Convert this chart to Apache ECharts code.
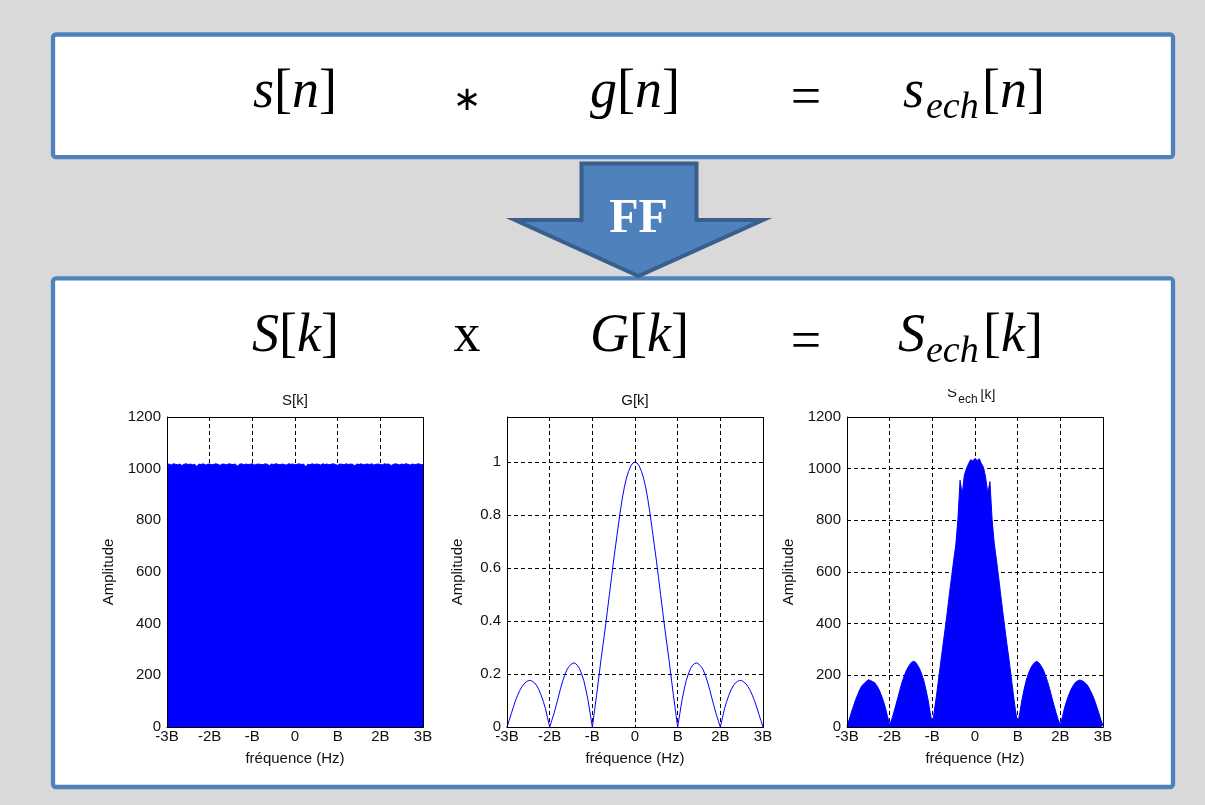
<!DOCTYPE html>
<html>
<head>
<meta charset="utf-8">
<script src="https://cdn.jsdelivr.net/npm/echarts@6/dist/echarts.min.js"></script>
<style>
html,body{margin:0;padding:0;background:#d9d9d9;}
#c{width:1205px;height:805px;}
</style>
</head>
<body>
<div id="c"></div>
<script>
// ---- data ----
const xTickLabels = ['-3B', '-2B', '-B', '0', 'B', '2B', '3B'];
const ampTicks = [0, 200, 400, 600, 800, 1000, 1200];
const gTicks = [0, 0.2, 0.4, 0.6, 0.8, 1];

// S[k] : flat noisy spectrum (121 samples from -3B to 3B)
const sValues = [
1016,1018,1014,1019,1017,1015,1018,1012,1017,1019,
1016,1018,1015,1017,1008,1018,1016,1019,1014,1017,
1018,1015,1017,1019,1016,1013,1018,1017,1015,1019,
1017,1016,1018,1010,1017,1019,1015,1018,1016,1017,
1019,1014,1017,1018,1016,1015,1019,1017,1012,1018,
1016,1019,1017,1015,1018,1016,1014,1019,1017,1018,
1015,1017,1019,1016,1018,1007,1017,1015,1019,1016,
1018,1017,1014,1019,1016,1018,1015,1017,1019,1016,
1013,1018,1017,1015,1019,1016,1018,1017,1011,1018,
1016,1019,1015,1017,1018,1016,1019,1014,1017,1018,
1016,1015,1019,1017,1018,1012,1016,1019,1017,1015,
1018,1016,1019,1017,1014,1018,1016,1017,1019,1016,1015];

// G[k] : |sinc|-like window (121 samples from -3B to 3B)
const gValues = [
0.000,0.025,0.050,0.076,0.100,0.120,0.138,0.152,0.163,0.170,
0.175,0.176,0.172,0.166,0.155,0.140,0.120,0.097,0.070,0.035,
0.000,0.025,0.050,0.080,0.110,0.142,0.170,0.195,0.215,0.228,
0.236,0.242,0.240,0.233,0.220,0.200,0.175,0.140,0.100,0.050,
0.000,0.060,0.120,0.185,0.250,0.310,0.370,0.435,0.500,0.565,
0.630,0.690,0.750,0.808,0.860,0.905,0.940,0.965,0.985,0.996,
1.000,0.996,0.985,0.965,0.940,0.905,0.860,0.808,0.750,0.690,
0.630,0.565,0.500,0.435,0.370,0.310,0.250,0.185,0.120,0.060,
0.000,0.050,0.100,0.140,0.175,0.200,0.220,0.233,0.240,0.242,
0.236,0.228,0.215,0.195,0.170,0.142,0.110,0.080,0.050,0.025,
0.000,0.035,0.070,0.097,0.120,0.140,0.155,0.166,0.172,0.176,
0.175,0.170,0.163,0.152,0.138,0.120,0.100,0.076,0.050,0.025,
0.000];

// S_ech[k] : product spectrum (121 samples from -3B to 3B)
const sEchValues = [
5,28,55,80,105,125,145,160,168,176,
183,180,176,171,160,145,125,102,75,40,
8,30,58,88,118,150,178,202,222,236,
248,254,252,240,226,205,180,145,105,55,
10,65,125,190,255,318,380,445,515,580,
645,705,805,955,900,975,1000,1020,1035,1030,
1040,1032,1038,1020,1005,965,905,950,805,712,
650,585,515,448,382,318,258,192,125,62,
10,55,105,145,180,205,226,240,250,254,
248,236,222,200,176,148,115,85,55,28,
8,40,75,102,125,145,160,172,178,182,
180,175,168,158,142,125,105,80,55,28,
5];

// frequency sampling grid (in units of B)
const freqs = [];
for (let i = 0; i < sValues.length; i++) freqs.push(Math.round((-3 + i * 0.05) * 100) / 100);

// ---- chart ----
const chart = echarts.init(document.getElementById('c'), null, {renderer: 'canvas'});
const grids = [
  {left: 167, top: 417, width: 256, height: 310},
  {left: 507, top: 417, width: 256, height: 310},
  {left: 847, top: 417, width: 256, height: 310}
];
const tickFont = {color: '#111', fontSize: 15, fontFamily: 'Liberation Sans'};
const dash = {color: '#000', type: [4, 3], width: 1};

function xAx(i) {
  return {
    gridIndex: i, type: 'value', min: -3, max: 3, interval: 1,
    axisLine: {show: true, onZero: false, lineStyle: {color: '#000', width: 1}},
    axisTick: {show: false},
    axisLabel: Object.assign({margin: 2, formatter: v => xTickLabels[Math.round(v + 3)]}, tickFont),
    splitLine: {show: true, lineStyle: dash},
    name: 'fréquence (Hz)', nameLocation: 'middle', nameGap: 24,
    nameTextStyle: tickFont
  };
}
function yAx(i, max, interval, ticks, gap) {
  return {
    gridIndex: i, type: 'value', min: 0, max: max, interval: interval,
    axisLine: {show: true, onZero: false, lineStyle: {color: '#000', width: 1}},
    axisTick: {show: false},
    axisLabel: Object.assign({margin: 6, showMaxLabel: true,
      formatter: v => {
        const t = ticks.find(k => Math.abs(k - v) < 1e-6);
        return t === undefined ? '' : String(t);
      }}, tickFont),
    splitLine: {show: true, lineStyle: dash},
    name: 'Amplitude', nameLocation: 'middle', nameGap: gap,
    nameTextStyle: tickFont
  };
}

const rich = {
  i: {fontFamily: 'Liberation Serif', fontSize: 54, fontStyle: 'italic', fill: '#000'},
  r: {fontFamily: 'Liberation Serif', fontSize: 54, fill: '#000'}
};
function eq(text, x, y, align) {
  return {type: 'text', z: 20, x: x, y: y,
    style: {text: text, rich: rich, align: align || 'left', verticalAlign: 'middle',
      fontFamily: 'Liberation Serif', fontSize: 54, fill: '#000'}};
}
function sub(text, x, y) {
  return {type: 'text', z: 20, x: x, y: y,
    style: {text: text, fontFamily: 'Liberation Serif', fontStyle: 'italic', fontSize: 38, fill: '#000',
      align: 'left', verticalAlign: 'middle'}};
}
function smallText(text, x, y, size, align) {
  return {type: 'text', z: 50, x: x, y: y,
    style: {text: text, fontFamily: 'Liberation Sans', fontSize: size, fill: '#111',
      align: align || 'center', verticalAlign: 'middle'}};
}

const graphics = [
  // boxes
  {type: 'rect', z: -10, shape: {x: 53, y: 34.5, width: 1120, height: 122.7, r: 3},
    style: {fill: '#fff', stroke: '#4f81bd', lineWidth: 4.3}},
  {type: 'rect', z: -10, shape: {x: 53, y: 278.3, width: 1120, height: 508.7, r: 3},
    style: {fill: '#fff', stroke: '#4f81bd', lineWidth: 4.3}},
  // arrow
  {type: 'polygon', z: -5,
    shape: {points: [[581.5, 163.5], [696.5, 163.5], [696.5, 220], [763, 220], [638.5, 276], [515, 220], [581.5, 220]]},
    style: {fill: '#4f81bd', stroke: '#3a5f8e', lineWidth: 4, lineJoin: 'miter'}},
  {type: 'text', z: 20, x: 638.5, y: 220,
    style: {text: 'FF', fontFamily: 'Liberation Serif', fontWeight: 'bold', fontSize: 48, fill: '#fff',
      align: 'center', verticalAlign: 'middle'}},
  // top equation
  eq('{i|s}{r|[}{i|n}{r|]}', 253, 93),
  {type: 'text', z: 20, x: 467, y: 101,
    style: {text: '\u2217', fontFamily: 'DejaVu Sans', fontSize: 34, fill: '#000', align: 'center', verticalAlign: 'middle'}},
  eq('{i|g}{r|[}{i|n}{r|]}', 590, 93),
  eq('{r|=}', 806, 100, 'center'),
  eq('{i|s}', 903, 93),
  sub('ech', 926, 108),
  eq('{r|[}{i|n}{r|]}', 982, 93),
  // bottom equation
  eq('{i|S}{r|[}{i|k}{r|]}', 252, 337),
  eq('{r|x}', 467, 337, 'center'),
  eq('{i|G}{r|[}{i|k}{r|]}', 590, 337),
  eq('{r|=}', 806, 344, 'center'),
  eq('{i|S}', 898, 337),
  sub('ech', 926, 352),
  eq('{r|[}{i|k}{r|]}', 983, 337),
  // subplot titles
  smallText('S[k]', 295, 401, 15),
  smallText('G[k]', 635, 401, 15),
  smallText('S', 952, 393, 15, 'center'),
  smallText('ech', 968, 400, 12, 'center'),
  smallText('[k]', 988, 395, 14, 'center'),
  {type: 'rect', z: 60, shape: {x: 935, y: 378, width: 70, height: 11}, style: {fill: '#fff'}}
];
// plot frames
grids.forEach(g => {
  graphics.push({type: 'rect', z: 100,
    shape: {x: g.left + 0.5, y: g.top + 0.5, width: g.width, height: g.height},
    style: {fill: null, stroke: '#000', lineWidth: 1}});
});

const option = {
  animation: false,
  backgroundColor: '#d9d9d9',
  grid: grids.map(g => Object.assign({containLabel: false, show: false}, g)),
  xAxis: [xAx(0), xAx(1), xAx(2)],
  yAxis: [
    yAx(0, 1200, 200, ampTicks, 51),
    yAx(1, 1.17, 0.2, gTicks, 42),
    yAx(2, 1200, 200, ampTicks, 51)
  ],
  series: [
    {type: 'line', xAxisIndex: 0, yAxisIndex: 0, symbol: 'none',
      data: freqs.map((f, i) => [f, sValues[i]]),
      lineStyle: {color: '#0000ff', width: 1}, areaStyle: {color: '#0000ff', opacity: 1}},
    {type: 'line', xAxisIndex: 1, yAxisIndex: 1, symbol: 'none',
      data: freqs.map((f, i) => [f, gValues[i]]),
      lineStyle: {color: '#0000ff', width: 1}},
    {type: 'line', xAxisIndex: 2, yAxisIndex: 2, symbol: 'none',
      data: freqs.map((f, i) => [f, sEchValues[i]]),
      lineStyle: {color: '#0000ff', width: 1}, areaStyle: {color: '#0000ff', opacity: 1}}
  ],
  graphic: {elements: graphics}
};
chart.setOption(option);
</script>
</body>
</html>
